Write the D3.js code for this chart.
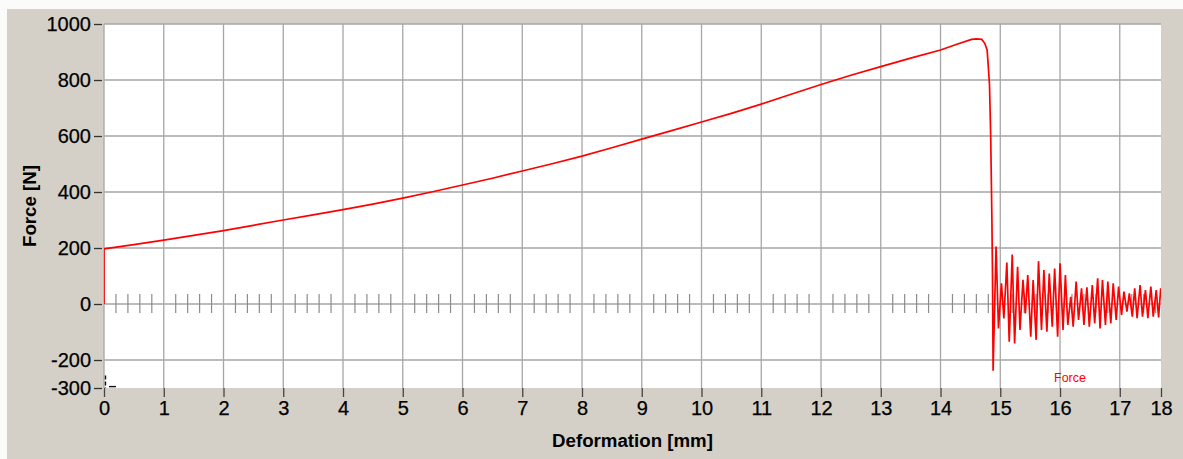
<!DOCTYPE html>
<html>
<head>
<meta charset="utf-8">
<script src="https://cdn.jsdelivr.net/npm/d3@7"></script>
<style>
  html, body { margin: 0; padding: 0; background: #d4d0c8; }
  svg { display: block; }
</style>
</head>
<body>
<svg id="chart" width="1183" height="459"></svg>
<script>
// Tensile test record: force against deformation up to fracture and the ringing after it.

// Loading branch and fracture drop
const loadDeformation = [0, 0, 0.5, 1, 1.5, 2, 2.5, 3, 3.5, 4, 4.5, 5, 5.5, 6, 6.5, 7, 7.5, 8, 8.5, 9, 9.5,
  10, 10.5, 11, 11.5, 12, 12.5, 13, 13.5, 14, 14.25, 14.52, 14.6, 14.69, 14.74, 14.78, 14.8, 14.82,
  14.84, 14.86, 14.87, 14.88, 14.93, 14.97, 15.02, 15.06];
const loadForce = [0, 197, 212, 228, 245, 262, 281, 300, 318, 337, 357, 378, 401, 425, 449, 475, 501, 528, 558, 589, 619,
  650, 681, 714, 749, 784, 817, 848, 878, 907, 926, 945, 947, 945, 931, 907, 847, 782,
  598, 300, 100, -238, 205, -87, 74, -52];

// Post-fracture oscillation
const ringDeformation = [15.11, 15.15, 15.20, 15.24, 15.29, 15.33, 15.38, 15.42, 15.46, 15.51, 15.55, 15.60,
  15.64, 15.69, 15.73, 15.78, 15.82, 15.87, 15.91, 15.96, 16.00, 16.05, 16.09, 16.13, 16.18, 16.22, 16.27,
  16.31, 16.36, 16.40, 16.45, 16.49, 16.54, 16.58, 16.63, 16.67, 16.71, 16.76, 16.80, 16.85, 16.89, 16.94,
  16.98, 17.03, 17.07, 17.12, 17.16, 17.21, 17.25, 17.29, 17.34, 17.38, 17.43, 17.47, 17.52, 17.56, 17.61,
  17.65, 17.685];
const ringForce = [148, -135, 177, -141, 133, -93, 86, -34, 103, -117, 86, -128, 153, -93, 121, -99, 109, -81,
  127, -117, 145, -93, 103, -75, 26, -81, 80, -57, 56, -75, 60, -81, 68, -69, 92, -87, 86, -75, 80, -69,
  74, -57, 62, -39, 44, -27, 38, -45, 56, -51, 68, -45, 50, -51, 62, -45, 50, -48, 56];

// Axes
const xTicks = [0, 1, 2, 3, 4, 5, 6, 7, 8, 9, 10, 11, 12, 13, 14, 15, 16, 17];
const xMax = 17.69;
const xEndLabel = "18";
const yTicks = [-300, -200, 0, 200, 400, 600, 800, 1000];
const yGrid = [-200, 0, 200, 400, 600, 800, 1000];
const xMinorStep = 0.2;
const xTitle = "Deformation [mm]";
const yTitle = "Force [N]";
const seriesName = "Force";

const W = 1183, H = 459;
const plot = { left: 104, right: 1161, top: 24, bottom: 388 };

const svg = d3.select("#chart");
const font = "'Liberation Sans', Arial, sans-serif";

// window background with light bevel on top and left
svg.append("rect").attr("width", W).attr("height", H).attr("fill", "#d4d0c8");
svg.append("rect").attr("width", W).attr("height", 9).attr("fill", "#fbfbfa");
svg.append("rect").attr("width", 7).attr("height", H).attr("fill", "#fbfbfa");

const x = d3.scaleLinear().domain([0, xMax]).range([plot.left, plot.right]);
const y = d3.scaleLinear().domain([-300, 1000]).range([plot.bottom, plot.top]);

svg.append("defs").append("clipPath").attr("id", "plotClip")
  .append("rect")
  .attr("x", plot.left).attr("y", plot.top)
  .attr("width", plot.right - plot.left).attr("height", plot.bottom - plot.top);

svg.append("rect")
  .attr("x", plot.left).attr("y", plot.top)
  .attr("width", plot.right - plot.left).attr("height", plot.bottom - plot.top)
  .attr("fill", "#ffffff");

const grid = svg.append("g").attr("stroke", "#a6a6a6").attr("stroke-width", 1.3);
grid.selectAll("line.v").data(xTicks).join("line").attr("class", "v")
  .attr("x1", d => x(d)).attr("x2", d => x(d))
  .attr("y1", plot.top).attr("y2", plot.bottom);
grid.selectAll("line.h").data(yGrid).join("line").attr("class", "h")
  .attr("x1", plot.left).attr("x2", plot.right)
  .attr("y1", d => y(d)).attr("y2", d => y(d));

// minor ticks along the zero line
const minor = d3.range(0, xMax, xMinorStep).filter(v => Math.abs(v - Math.round(v)) > 1e-6);
svg.append("g").attr("stroke", "#8c8c8c").attr("stroke-width", 1.2)
  .selectAll("line").data(minor).join("line")
  .attr("x1", d => x(d)).attr("x2", d => x(d))
  .attr("y1", y(0) - 10).attr("y2", y(0) + 9);

// y axis ticks and labels (plain hyphen for negatives)
const yAxis = svg.append("g")
  .attr("transform", `translate(${plot.left - 2},0)`)
  .call(d3.axisLeft(y).tickValues(yTicks).tickSize(8).tickPadding(3).tickFormat(d => String(d)));
yAxis.select(".domain").remove();
yAxis.selectAll(".tick line").attr("stroke", "#333").attr("stroke-width", 1.3);
yAxis.selectAll(".tick text")
  .attr("font-family", font).attr("font-size", 20).attr("fill", "#000")
  .attr("stroke", "#000").attr("stroke-width", 0.25);

// x axis ticks and labels
const xAxis = svg.append("g")
  .attr("transform", `translate(0,${plot.bottom})`)
  .call(d3.axisBottom(x).tickValues(xTicks.concat([xMax])).tickSize(9).tickPadding(4)
    .tickFormat(d => d === xMax ? xEndLabel : String(d)));
xAxis.select(".domain").remove();
xAxis.selectAll(".tick line").attr("stroke", "#444").attr("stroke-width", 1.3);
xAxis.selectAll(".tick text")
  .attr("font-family", font).attr("font-size", 20).attr("fill", "#000")
  .attr("stroke", "#000").attr("stroke-width", 0.25);

// axis titles
svg.append("text")
  .attr("x", (plot.left + plot.right) / 2).attr("y", 447)
  .attr("text-anchor", "middle")
  .attr("font-family", font).attr("font-size", 18.7).attr("font-weight", "bold")
  .text(xTitle);
svg.append("text")
  .attr("transform", `translate(36,${(plot.top + plot.bottom) / 2}) rotate(-90)`)
  .attr("text-anchor", "middle")
  .attr("font-family", font).attr("font-size", 18.7).attr("font-weight", "bold")
  .text(yTitle);

// force curve
const pts = loadDeformation.map((d, i) => [d, loadForce[i]])
  .concat(ringDeformation.map((d, i) => [d, ringForce[i]]));
svg.append("path")
  .datum(pts)
  .attr("clip-path", "url(#plotClip)")
  .attr("fill", "none")
  .attr("stroke", "#ff0000")
  .attr("stroke-width", 1.7)
  .attr("stroke-linejoin", "miter")
  .attr("d", d3.line().x(d => x(d[0])).y(d => y(d[1])));

// cursor marker at the origin of the lower edge
const cur = svg.append("g").attr("stroke", "#111").attr("stroke-width", 1.4);
cur.append("line")
  .attr("x1", x(0) + 1.5).attr("x2", x(0) + 1.5)
  .attr("y1", y(-255)).attr("y2", y(-300))
  .attr("stroke-dasharray", "4,2");
cur.append("line")
  .attr("x1", x(0) + 5).attr("x2", x(0) + 12)
  .attr("y1", y(-295)).attr("y2", y(-295));

// series name
svg.append("text")
  .attr("x", 1070).attr("y", 382)
  .attr("text-anchor", "middle")
  .attr("font-family", font).attr("font-size", 12.5).attr("fill", "#ff0000")
  .text(seriesName);
</script>
</body>
</html>
